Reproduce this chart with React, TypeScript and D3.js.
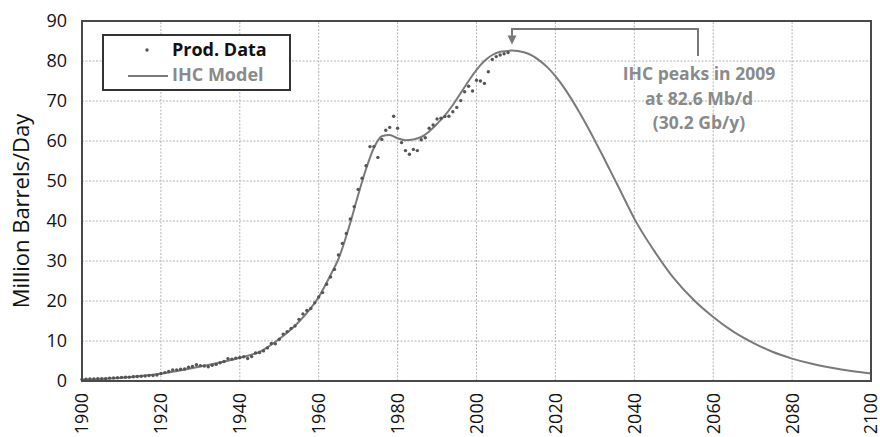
import React, { useEffect, useRef } from "react";
import * as d3 from "d3";

// annual crude production, Mb/d, 1900..2008
const prodStartYear = 1900;
const prodValues = [
  0.41, 0.46, 0.5, 0.53, 0.6, 0.59, 0.58, 0.72, 0.78, 0.82,
  0.9, 0.94, 0.96, 1.06, 1.11, 1.18, 1.26, 1.38, 1.38, 1.5,
  1.89, 2.1, 2.36, 2.77, 2.79, 2.92, 2.99, 3.45, 3.64, 4.06,
  3.85, 3.75, 3.56, 3.91, 4.15, 4.55, 4.89, 5.6, 5.47, 5.73,
  5.89, 6.07, 5.62, 6.1, 7.03, 7.11, 7.53, 8.28, 9.4, 9.33,
  10.42, 11.73, 12.34, 13.15, 13.74, 15.41, 16.78, 17.64, 18.11, 19.54,
  21.0, 22.1, 24.2, 26.0, 27.9, 31.5, 34.4, 36.9, 40.5, 43.6,
  47.9, 50.7, 53.8, 58.6, 58.6, 55.9, 60.4, 62.7, 63.4, 66.2,
  63.2, 59.6, 57.6, 56.7, 57.9, 57.6, 60.3, 60.8, 63.2, 64.0,
  65.5, 65.7, 66.1, 66.2, 67.3, 68.4, 70.1, 72.3, 73.7, 72.5,
  75.2, 75.0, 74.4, 77.3, 80.4, 81.1, 81.5, 81.8, 82.1,
];

// IHC model curve
const modelYears = [
  1900, 1910, 1920, 1930, 1940, 1945, 1950, 1955, 1960, 1963, 1965, 1968,
  1970, 1972, 1974, 1976, 1978, 1980, 1982, 1984, 1986, 1988, 1990, 1992,
  1994, 1996, 1998, 2000, 2002, 2004, 2006, 2009, 2012, 2014, 2016, 2018,
  2020, 2022, 2024, 2026, 2028, 2030, 2032, 2034, 2036, 2038, 2040, 2045,
  2050, 2055, 2060, 2065, 2070, 2075, 2080, 2085, 2090, 2095, 2100,
];
const modelValues = [
  0.3, 0.8, 1.8, 3.6, 5.8, 7.3, 10.5, 14.8, 21, 26.5, 30.5, 39.5,
  46.5, 53, 58.3, 61.2, 61.5, 60.7, 60.2, 60.4, 61.0, 62.4, 64.3, 66.4,
  69.0, 72.0, 75.0, 77.8, 80.0, 81.5, 82.3, 82.6, 82.2, 81.4, 80.1, 78.4,
  76.2, 73.6, 70.6, 67.3, 63.8, 60.1, 56.3, 52.4, 48.5, 44.5, 40.6, 32.6,
  25.7, 20.3, 16.0, 12.4, 9.6, 7.3, 5.6, 4.3, 3.3, 2.5, 1.9,
];

const xTicks = [1900, 1920, 1940, 1960, 1980, 2000, 2020, 2040, 2060, 2080, 2100];
const yTicks = [0, 10, 20, 30, 40, 50, 60, 70, 80, 90];

const peakYear = 2009;
const peakValue = 82.6;
const annotationLines = ["IHC peaks in 2009", "at 82.6 Mb/d", "(30.2 Gb/y)"];

const FONT = "'Open Sans', sans-serif";

const App = () => {
  const ref = useRef<SVGSVGElement>(null);

  useEffect(() => {
    const svg = d3.select(ref.current);
    svg.selectAll("*").remove();

    const margin = { top: 21, right: 9, bottom: 56, left: 82 },
      width = 880,
      height = 437;

    const x = d3
      .scaleLinear()
      .domain([1900, 2100])
      .range([margin.left, width - margin.right]);
    const y = d3
      .scaleLinear()
      .domain([0, 90])
      .range([height - margin.bottom, margin.top]);

    svg.append("rect").attr("width", width).attr("height", height).attr("fill", "#fff");

    // grid
    const grid = svg.append("g").attr("stroke", "#b4b4b4").attr("stroke-width", 1).attr("stroke-dasharray", "2,1.5");
    xTicks.slice(1, -1).forEach((t) => {
      grid.append("line").attr("x1", x(t)).attr("x2", x(t)).attr("y1", y(0)).attr("y2", y(90));
    });
    yTicks.slice(1, -1).forEach((t) => {
      grid.append("line").attr("x1", x(1900)).attr("x2", x(2100)).attr("y1", y(t)).attr("y2", y(t));
    });

    // y tick labels
    svg
      .append("g")
      .selectAll("text")
      .data(yTicks)
      .join("text")
      .attr("x", margin.left - 15)
      .attr("y", (d) => y(d))
      .attr("dy", "0.36em")
      .attr("text-anchor", "end")
      .style("font-family", FONT)
      .style("font-size", "18px")
      .attr("fill", "#111")
      .text((d) => d);

    // x tick labels, rotated
    svg
      .append("g")
      .selectAll("text")
      .data(xTicks)
      .join("text")
      .attr("transform", (d) => `translate(${x(d)}, ${y(0) + 12}) rotate(-90)`)
      .attr("dy", "0.36em")
      .attr("text-anchor", "end")
      .style("font-family", FONT)
      .style("font-size", "18px")
      .attr("fill", "#111")
      .text((d) => d);

    // axis title
    svg
      .append("text")
      .attr("transform", `translate(29, 211) rotate(-90)`)
      .attr("text-anchor", "middle")
      .style("font-family", FONT)
      .style("font-size", "22px")
      .attr("fill", "#111")
      .text("Million Barrels/Day");

    // model line
    const line = d3
      .line<number>()
      .x((d, i) => x(modelYears[i]))
      .y((d) => y(d))
      .curve(d3.curveMonotoneX);

    svg
      .append("path")
      .attr("d", line(modelValues))
      .attr("fill", "none")
      .attr("stroke", "#7a7a7a")
      .attr("stroke-width", 2);

    // production points
    svg
      .append("g")
      .selectAll("circle")
      .data(prodValues)
      .join("circle")
      .attr("cx", (d, i) => x(prodStartYear + i))
      .attr("cy", (d) => y(d))
      .attr("r", 1.7)
      .attr("fill", "#555");

    // frame
    svg
      .append("rect")
      .attr("x", x(1900))
      .attr("y", y(90))
      .attr("width", x(2100) - x(1900))
      .attr("height", y(0) - y(90))
      .attr("fill", "none")
      .attr("stroke", "#4a4a4a")
      .attr("stroke-width", 2);

    // legend
    const lg = svg.append("g");
    lg.append("rect")
      .attr("x", 103)
      .attr("y", 35)
      .attr("width", 187)
      .attr("height", 55)
      .attr("fill", "#fff")
      .attr("stroke", "#333")
      .attr("stroke-width", 2);
    lg.append("circle").attr("cx", 147).attr("cy", 50).attr("r", 1.7).attr("fill", "#555");
    lg.append("text")
      .attr("x", 172)
      .attr("y", 56)
      .style("font-family", FONT)
      .style("font-size", "18px")
      .style("font-weight", "bold")
      .attr("fill", "#111")
      .text("Prod. Data");
    lg.append("line")
      .attr("x1", 128)
      .attr("x2", 168)
      .attr("y1", 76)
      .attr("y2", 76)
      .attr("stroke", "#7a7a7a")
      .attr("stroke-width", 2);
    lg.append("text")
      .attr("x", 172)
      .attr("y", 81)
      .style("font-family", FONT)
      .style("font-size", "18px")
      .style("font-weight", "bold")
      .attr("fill", "#8a8a8a")
      .text("IHC Model");

    // peak annotation bracket
    const px = x(peakYear);
    const topY = 29;
    const rightX = 698;
    svg
      .append("path")
      .attr("d", `M${rightX},56 V${topY} H${px} V${y(peakValue) - 14}`)
      .attr("fill", "none")
      .attr("stroke", "#777")
      .attr("stroke-width", 2);
    const tip = y(peakValue) - 6;
    svg
      .append("path")
      .attr("d", `M${px - 4.5},${tip - 9} L${px + 4.5},${tip - 9} L${px},${tip} Z`)
      .attr("fill", "#777");

    svg
      .append("g")
      .selectAll("text")
      .data(annotationLines)
      .join("text")
      .attr("x", 699)
      .attr("y", (d, i) => 80 + i * 24.5)
      .attr("text-anchor", "middle")
      .style("font-family", FONT)
      .style("font-size", "17.5px")
      .style("font-weight", "bold")
      .attr("fill", "#8a8a8a")
      .text((d) => d);
  }, []);

  return (
    <svg
      ref={ref}
      width={880}
      height={437}
      style={{ position: "absolute", left: 0, top: 0 }}
    />
  );
};

export default App;
